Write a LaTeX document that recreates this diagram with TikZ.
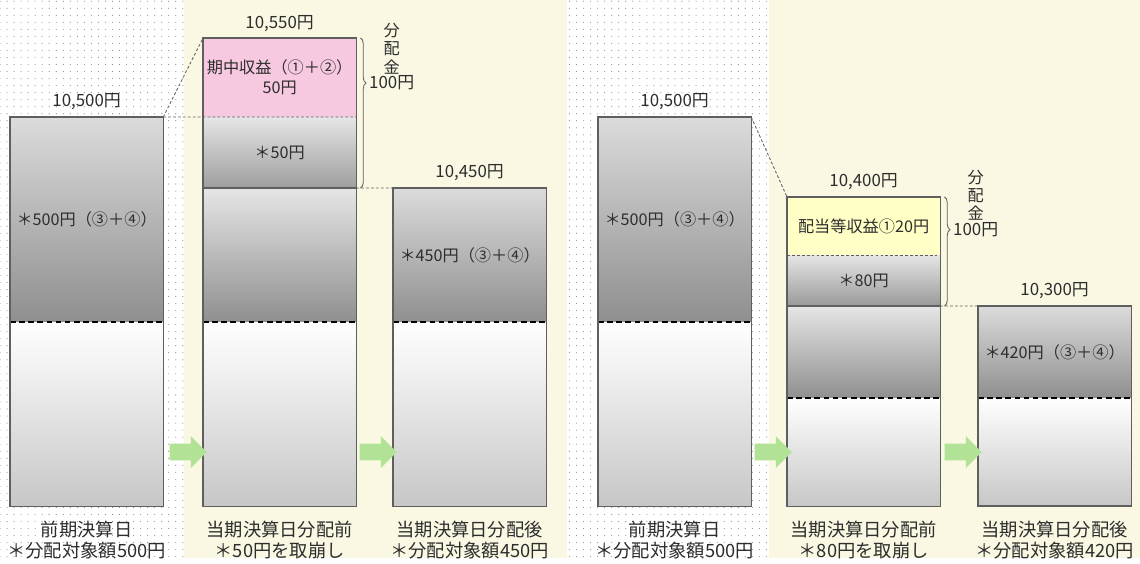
\documentclass[tikz,border=0pt]{standalone}
\usepackage{fontspec}
\setmainfont{Noto Sans CJK JP}
\usepackage{tikz}
\usetikzlibrary{positioning, arrows.meta, shapes.arrows, decorations.pathreplacing, calc, patterns.meta}

\definecolor{cream}{RGB}{250,248,226}
\definecolor{pinkseg}{RGB}{247,201,225}
\definecolor{yellowseg}{RGB}{255,255,198}
\definecolor{flowgreen}{RGB}{178,226,150}
\definecolor{txt}{RGB}{45,45,45}
\definecolor{edge}{RGB}{95,95,95}

\begin{document}
\begin{tikzpicture}[
    x=0.025cm, y=-0.025cm,
    node distance=0pt,
    seg/.style={minimum width=3.83cm, inner sep=0pt, outer sep=0pt, align=center, font=\fontsize{11.5}{14}\selectfont, text=txt},
    upper/.style={seg, top color=black!14, bottom color=black!44},
    lower/.style={seg, top color=white, bottom color=black!22},
    value/.style={font=\fontsize{12}{14}\selectfont, text=txt},
    caption/.style={align=center, font=\fontsize{13}{15}\selectfont, text=txt},
    share/.style={align=center, font=\fontsize{11.5}{13}\selectfont, text=txt, inner sep=0pt},
    outline/.style={draw=edge, line width=0.8pt},
    cut/.style={black, line width=2pt, dash pattern=on 4pt off 2.5pt},
    guide/.style={edge, line width=0.6pt, dash pattern=on 2pt off 1.5pt},
    brace/.style={decorate, decoration={brace, amplitude=4pt, aspect=0.3}, edge, line width=0.6pt},
    flow/.style={single arrow, draw=none, fill=flowgreen, minimum height=0.93cm, inner xsep=0pt, inner ysep=0.2cm, single arrow head extend=0.19cm},
]

% Background
\fill[white] (0,0) rectangle (1140,558);
\fill[cream] (184,0) rectangle (567,558);
\fill[cream] (769,0) rectangle (1140,558);
\fill[pattern={Dots[distance=5pt, radius=0.4pt]}, pattern color=black!45] (0,0) rectangle (184,558);
\fill[pattern={Dots[distance=5pt, radius=0.4pt]}, pattern color=black!45] (567,0) rectangle (769,558);

% Left: previous closing date
\node[upper, minimum height=5.125cm, anchor=north west] (b1u) at (10,117) {＊500円（③＋④）};
\node[lower, minimum height=4.6cm, below=of b1u] (b1l) {};

% Left: before distribution
\node[seg, fill=pinkseg, minimum height=1.975cm, anchor=north west] (b2p) at (203,38) {期中収益（①＋②）\\50円};
\node[seg, top color=black!10, bottom color=black!38, minimum height=1.775cm, below=of b2p] (b2s) {＊50円};
\node[upper, top color=black!10, minimum height=3.35cm, below=of b2s] (b2u) {};
\node[lower, minimum height=4.6cm, below=of b2u] (b2l) {};

% Left: after distribution
\node[upper, minimum height=3.35cm, anchor=north west] (b3u) at (393,188) {＊450円（③＋④）};
\node[lower, minimum height=4.6cm, below=of b3u] (b3l) {};

% Right: previous closing date
\node[upper, minimum height=5.125cm, anchor=north west] (b4u) at (598,117) {＊500円（③＋④）};
\node[lower, minimum height=4.6cm, below=of b4u] (b4l) {};

% Right: before distribution
\node[seg, fill=yellowseg, minimum height=1.45cm, anchor=north west] (b5y) at (787,197) {配当等収益①20円};
\node[seg, top color=black!10, bottom color=black!40, minimum height=1.275cm, below=of b5y] (b5s) {＊80円};
\node[upper, top color=black!10, minimum height=2.3cm, below=of b5s] (b5u) {};
\node[lower, minimum height=2.7cm, below=of b5u] (b5l) {};

% Right: after distribution
\node[upper, minimum height=2.3cm, anchor=north west] (b6u) at (978,306) {＊420円（③＋④）};
\node[lower, minimum height=2.7cm, below=of b6u] (b6l) {};

% Values
\node[value, above=2pt of b1u] (v1) {10,500円};
\node[value, above=1pt of b2p] (v2) {10,550円};
\node[value, above=2pt of b3u] (v3) {10,450円};
\node[value, above=2pt of b4u] (v4) {10,500円};
\node[value, above=2pt of b5y] (v5) {10,400円};
\node[value, above=2pt of b6u] (v6) {10,300円};

% Captions
\node[caption, below=7pt of b1l] (c1) {前期決算日\\＊分配対象額500円};
\node[caption, below=7pt of b2l] (c2) {当期決算日分配前\\＊50円を取崩し};
\node[caption, below=7pt of b3l] (c3) {当期決算日分配後\\＊分配対象額450円};
\node[caption, below=7pt of b4l] (c4) {前期決算日\\＊分配対象額500円};
\node[caption, below=7pt of b5l] (c5) {当期決算日分配前\\＊80円を取崩し};
\node[caption, below=7pt of b6l] (c6) {当期決算日分配後\\＊分配対象額420円};

% Dashed guides
\draw[guide] (b1u.north east) -- (b2p.north west);
\draw[guide] (b1u.north east) -- (b2p.south east);
\draw[guide] (b2s.south east) -- (b3u.north west);
\draw[guide] (b4u.north east) -- (b5y.north west);
\draw[guide] (b5y.south west) -- (b5y.south east);
\draw[guide] (b5s.south east) -- (b6u.north west);

% Cut lines and outlines
\foreach \n in {1,...,6}
    \draw[cut] (b\n u.south west) -- (b\n u.south east);
\draw[outline] (b2s.south west) -- (b2s.south east);
\draw[outline] (b5s.south west) -- (b5s.south east);
\foreach \n/\t in {1/b1u, 2/b2p, 3/b3u, 4/b4u, 5/b5y, 6/b6u}
    \draw[outline] (\t.north west) rectangle (b\n l.south east);

% Distribution braces
\draw[brace] ([xshift=3pt]b2p.north east) -- coordinate[pos=0.3] (t2) ([xshift=3pt]b2s.south east);
\node[value, anchor=west, inner sep=0pt] (d2) at ([xshift=6pt]t2) {100円};
\node[share, above=1pt of d2] (k2) {分\\配\\金};
\draw[brace] ([xshift=3pt]b5y.north east) -- coordinate[pos=0.3] (t5) ([xshift=3pt]b5s.south east);
\node[value, anchor=west, inner sep=0pt] (d5) at ([xshift=6pt]t5) {100円};
\node[share, above=1pt of d5] (k5) {分\\配\\金};

% Flow arrows
\node[flow] (a1) at (184,452) {};
\node[flow] (a2) at (374,452) {};
\node[flow] (a3) at (769,452) {};
\node[flow] (a4) at (959,452) {};

\end{tikzpicture}
\end{document}
